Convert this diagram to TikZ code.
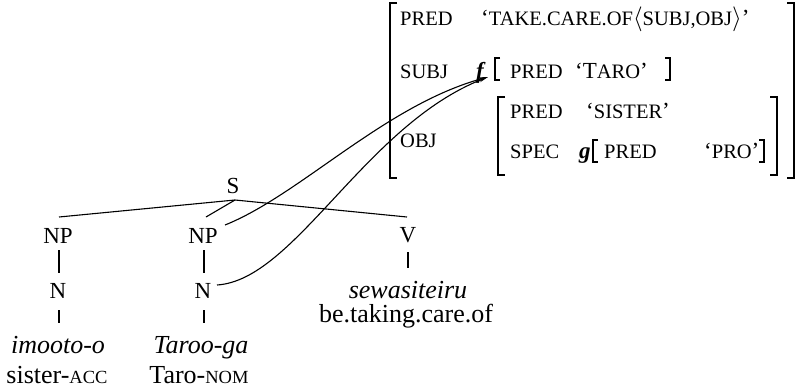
\documentclass[tikz,border=0pt]{standalone}
\usepackage{fontspec}
\setmainfont{Liberation Serif}
\usetikzlibrary{calc,arrows.meta}
\newcommand\smc[1]{{\fontsize{20.5}{22}\selectfont #1}}
\newcommand\tsmc[1]{{\fontsize{18.5}{22}\selectfont #1}}
\begin{document}
\begin{tikzpicture}[x=1pt,y=-1pt,
  lab/.style={font=\fontsize{23}{26}\selectfont, inner sep=0pt, anchor=base},
  word/.style={font=\fontsize{26}{30}\selectfont, inner sep=0pt, anchor=base},
  avm/.style={font=\fontsize{23}{26}\selectfont, inner sep=0pt, anchor=base west},
  tline/.style={line width=1.1pt},
  brk/.style={line width=1.4pt},
  link/.style={line width=1.1pt, -{Stealth[length=9pt,width=4pt]}}]
\useasboundingbox (0,0) rectangle (798,389);
% tree
\node[lab] (s) at (233,193) {S};
\node[lab] (np1) at (58,243) {NP};
\node[lab] (np2) at (203,243) {NP};
\node[lab] (v) at (408,242) {V};
\node[lab] (n1) at (58,298) {N};
\node[lab] (n2) at (203,298) {N};
\node[word] (w1) at (58,353) {\textit{imooto-o}};
\node[word] (g1) at (57,383) {sister-\tsmc{ACC}};
\node[word] (w2) at (201,353) {\textit{Taroo-ga}};
\node[word] (g2) at (199,383) {Taro-\tsmc{NOM}};
\node[word] (w3) at (408,298) {\textit{sewasiteiru}};
\node[word] (g3) at (406,322) {be.taking.care.of};
\draw[tline] ($(s.base)+(2,7)$) -- ($(np1.base)+(1,-26)$);
\draw[tline] ($(s.base)+(2,7)$) -- ($(np2.base)+(3,-26)$);
\draw[tline] ($(s.base)+(2,7)$) -- ($(v.base)+(-1,-25)$);
\draw[tline] ($(np1.base)+(1,7)$) -- ($(n1.base)+(1,-25)$);
\draw[tline] ($(np2.base)+(1,7)$) -- ($(n2.base)+(1,-25)$);
\draw[tline] ($(n1.base)+(1,12)$) -- ($(w1.base)+(1,-30)$);
\draw[tline] ($(n2.base)+(1,12)$) -- ($(w2.base)+(3,-30)$);
\draw[tline] ($(v.base)+(0,10)$) -- ($(w3.base)+(0,-30)$);
% AVM
\node[avm] (p1) at (400,25) {\smc{PRED}};
\node[avm] (v1) at (481,25) {‘\smc{TAKE.CARE.OF}$\langle$\smc{SUBJ,OBJ}$\rangle$’};
\node[avm] (subj) at (400,78) {\smc{SUBJ}};
\node[avm] (f) at (476,78) {\textbf{\textit{f}}};
\node[avm] (p2) at (510,78) {\smc{PRED}};
\node[avm] (v2) at (575,78) {‘T\smc{ARO}’};
\node[avm] (obj) at (400,147) {\smc{OBJ}};
\node[avm] (p3) at (510,118) {\smc{PRED}};
\node[avm] (v3) at (586,118) {‘\smc{SISTER}’};
\node[avm] (spec) at (510,158) {\smc{SPEC}};
\node[avm] (g) at (579,158) {\textbf{\textit{g}}};
\node[avm] (p4) at (604,158) {\smc{PRED}};
\node[avm] (v4) at (704,158) {‘\smc{PRO}’};
% brackets
\draw[brk] (397,3) -- (390,3) -- (390,178) -- (397,178);
\draw[brk] (787,3) -- (794,3) -- (794,178) -- (787,178);
\draw[brk] (500,58) -- (495,58) -- (495,80) -- (500,80);
\draw[brk] (665,58) -- (670,58) -- (670,80) -- (665,80);
\draw[brk] (505,97) -- (498,97) -- (498,175) -- (505,175);
\draw[brk] (770,97) -- (777,97) -- (777,175) -- (770,175);
\draw[brk] (598,140) -- (593,140) -- (593,162) -- (598,162);
\draw[brk] (759,140) -- (764,140) -- (764,162) -- (759,162);
% links
\draw[link] ($(np2.base)+(22,-18)$) .. controls (300,195) and (385,105) .. ($(f.base east)+(2,-1)$);
\draw[link] ($(n2.base)+(14,-13)$) .. controls (295,280) and (365,125) .. ($(f.base east)+(2,-1)$);
\end{tikzpicture}
\end{document}
